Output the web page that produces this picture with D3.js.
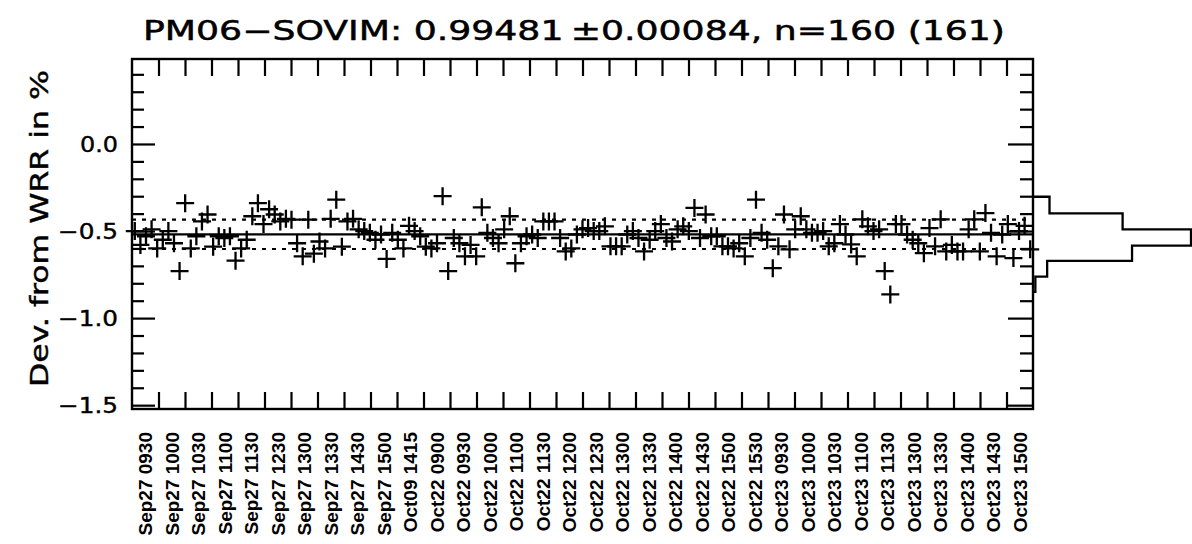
<!DOCTYPE html>
<html><head><meta charset="utf-8">
<script src="https://cdn.jsdelivr.net/npm/d3@7"></script>
<style>body{margin:0;background:#fff}svg{display:block}</style>
</head><body><svg id="c" width="1192" height="544"></svg>
<script>
// ---------- data ----------
const titleText = "PM06\u2212SOVIM: 0.99481\u2009\u00B10.00084, n=160 (161)";
const yAxisTitle = "Dev. from WRR in %";
const timeLabels = ["Sep27 0930","Sep27 1000","Sep27 1030","Sep27 1100","Sep27 1130","Sep27 1230","Sep27 1300","Sep27 1330","Sep27 1430","Sep27 1500","Oct09 1415","Oct22 0900","Oct22 0930","Oct22 1000","Oct22 1100","Oct22 1130","Oct22 1200","Oct22 1230","Oct22 1300","Oct22 1330","Oct22 1400","Oct22 1430","Oct22 1500","Oct22 1530","Oct23 0930","Oct23 1000","Oct23 1030","Oct23 1100","Oct23 1130","Oct23 1300","Oct23 1330","Oct23 1400","Oct23 1430","Oct23 1500"];
const deviations = [
-0.50,-0.58,-0.53,
-0.49,-0.60,-0.55,-0.50,-0.57,-0.73,-0.34,-0.60,-0.53,-0.445,-0.405,-0.59,-0.53,-0.54,-0.53,-0.67,-0.60,-0.55,-0.415,-0.34,-0.46,-0.375,-0.405,-0.445,-0.43,-0.435,-0.57,-0.645,-0.435,-0.63,-0.56,-0.60,-0.43,-0.32,-0.59,-0.445,-0.43,-0.49,-0.50,-0.51,-0.55,-0.52,-0.66,-0.51,-0.55,-0.60,-0.47,-0.50,-0.53,-0.59,-0.60,-0.57,-0.30,-0.73,
-0.54,-0.57,-0.645,-0.58,-0.645,-0.364,-0.51,-0.54,-0.57,-0.49,
-0.415,-0.685,-0.57,-0.53,-0.52,-0.54,-0.445,-0.445,-0.445,-0.54,
-0.617,-0.60,-0.52,-0.49,-0.483,-0.50,-0.50,-0.473,-0.588,-0.588,
-0.588,-0.52,-0.50,-0.54,-0.617,-0.55,-0.50,-0.46,-0.54,-0.56,
-0.49,-0.473,-0.50,-0.367,-0.54,-0.405,-0.53,-0.53,-0.588,-0.588,
-0.60,-0.57,-0.645,-0.54,-0.32,-0.51,-0.55,-0.713,-0.588,-0.405,
-0.605,-0.49,-0.415,-0.49,-0.51,-0.51,-0.50,-0.588,-0.57,-0.46,
-0.52,-0.577,-0.645,-0.433,-0.473,-0.50,-0.49,-0.73,-0.864,-0.46,
-0.46,-0.52,-0.55,-0.57,-0.627,-0.483,-0.588,-0.433,-0.617,-0.58,
-0.617,-0.617,-0.49,-0.433,-0.617,-0.397,-0.51,-0.645,-0.52,-0.46,
-0.655,-0.50,-0.47,-0.605];
const meanDev = -0.519;
const sdLines = [-0.435, -0.603];
const yDomain = [-1.522, 0.488];
const yMajorTicks = [0.0, -0.5, -1.0, -1.5];
const yTickLabels = ["0.0", "\u22120.5", "\u22121.0", "\u22121.5"];
const yMinorTicks = [0.4,0.3,0.2,0.1,-0.1,-0.2,-0.3,-0.4,-0.6,-0.7,-0.8,-0.9,-1.1,-1.2,-1.3,-1.4];
const histEdges = [-0.303,-0.398,-0.490,-0.584,-0.671,-0.762,-0.849];
const histCounts = [7,38,67,42,6,1];

// ---------- layout ----------
const M = {l:132, r:1033, t:59, b:409};
const svg = d3.select("#c");
const ink = "#000";

const xBand = d3.scaleBand().domain(timeLabels).range([M.l, M.r]).paddingInner(0).paddingOuter(0);
const xEdge = d3.scaleLinear().domain([0, timeLabels.length]).range([M.l, M.r]);
const xPt = d3.scaleLinear().domain([0, deviations.length]).range([M.l, M.r]);
const y = d3.scaleLinear().domain(yDomain).range([M.b, M.t]);
const hx = d3.scaleLinear().domain([0, d3.max(histCounts)]).range([M.r, 1191]);

function styleAxis(g){
  g.select(".domain").remove();
  g.selectAll(".tick line").attr("stroke", ink).attr("stroke-width", 2.2);
}
const boundaries = d3.range(1, timeLabels.length);

svg.append("g").attr("transform",`translate(0,${M.b})`)
  .call(d3.axisBottom(xEdge).tickValues(boundaries).tickSize(-17).tickFormat(""))
  .call(styleAxis);
svg.append("g").attr("transform",`translate(0,${M.t})`)
  .call(d3.axisTop(xEdge).tickValues(boundaries).tickSize(-17).tickFormat(""))
  .call(styleAxis);

const yl = svg.append("g").attr("transform",`translate(${M.l},0)`)
  .call(d3.axisLeft(y).tickValues(yMajorTicks).tickSize(-23).tickPadding(14)
    .tickFormat((d,i)=>yTickLabels[i]))
  .call(styleAxis);
yl.selectAll("text")
  .attr("fill", ink)
  .attr("stroke", ink).attr("stroke-width", 0.4)
  .attr("dy","0.36em")
  .style("font-family","'DejaVu Sans', sans-serif")
  .style("font-size","21px")
  .attr("textLength", d => d < 0 ? 60 : 38)
  .attr("lengthAdjust","spacingAndGlyphs");
svg.append("g").attr("transform",`translate(${M.l},0)`)
  .call(d3.axisLeft(y).tickValues(yMinorTicks).tickSize(-12).tickFormat(""))
  .call(styleAxis);
svg.append("g").attr("transform",`translate(${M.r},0)`)
  .call(d3.axisRight(y).tickValues(yMajorTicks).tickSize(-25).tickFormat(""))
  .call(styleAxis);
svg.append("g").attr("transform",`translate(${M.r},0)`)
  .call(d3.axisRight(y).tickValues(yMinorTicks).tickSize(-13).tickFormat(""))
  .call(styleAxis);

const xl = svg.append("g").attr("transform",`translate(0,${M.b})`)
  .call(d3.axisBottom(xBand).tickSize(0));
xl.select(".domain").remove();
xl.selectAll("text")
  .attr("fill", ink)
  .attr("x", -23).attr("y", 0).attr("dy","0.36em")
  .attr("transform","rotate(-90)")
  .style("text-anchor","end")
  .style("font-family","'Liberation Sans', Arial, sans-serif")
  .style("font-weight","bold")
  .style("font-size","19px");

svg.append("line").attr("x1",M.l).attr("x2",M.r).attr("y1",y(meanDev)).attr("y2",y(meanDev))
  .attr("stroke",ink).attr("stroke-width",2.4);
svg.selectAll(".sd").data(sdLines).join("line").attr("class","sd")
  .attr("x1",M.l).attr("x2",M.r).attr("y1",d=>y(d)).attr("y2",d=>y(d))
  .attr("stroke",ink).attr("stroke-width",2.2).attr("stroke-dasharray","4,6");

const cs = 9;
svg.append("g").selectAll("path").data(deviations).join("path")
  .attr("d",(d,i)=>{const cx=xPt(i+0.5), cy=y(d);
    return `M${cx-cs},${cy}H${cx+cs}M${cx},${cy-cs}V${cy+cs}`;})
  .attr("stroke",ink).attr("stroke-width",2.3).attr("fill","none");

svg.append("rect").attr("x",M.l).attr("y",M.t).attr("width",M.r-M.l).attr("height",M.b-M.t)
  .attr("fill","none").attr("stroke",ink).attr("stroke-width",2.4);

const hp = [[hx(0), y(histEdges[0])]];
histCounts.forEach((c,i)=>{
  hp.push([hx(c), y(histEdges[i])]);
  hp.push([hx(c), y(histEdges[i+1])]);
});
hp.push([hx(0), y(histEdges[histEdges.length-1])]);
svg.append("path").attr("d", d3.line()(hp))
  .attr("fill","none").attr("stroke",ink).attr("stroke-width",2.3);

svg.append("text").attr("x",143).attr("y",40)
  .attr("textLength",862).attr("lengthAdjust","spacingAndGlyphs")
  .attr("stroke",ink).attr("stroke-width",0.5)
  .style("font-family","'DejaVu Sans', sans-serif").style("font-size","27px")
  .attr("fill",ink).text(titleText);

svg.append("text").attr("transform","translate(48.3,228.5) rotate(-90)")
  .attr("text-anchor","middle")
  .attr("textLength",317).attr("lengthAdjust","spacingAndGlyphs")
  .attr("stroke",ink).attr("stroke-width",0.4)
  .style("font-family","'DejaVu Sans', sans-serif").style("font-size","24px")
  .attr("fill",ink).text(yAxisTitle);
</script>
</body></html>
